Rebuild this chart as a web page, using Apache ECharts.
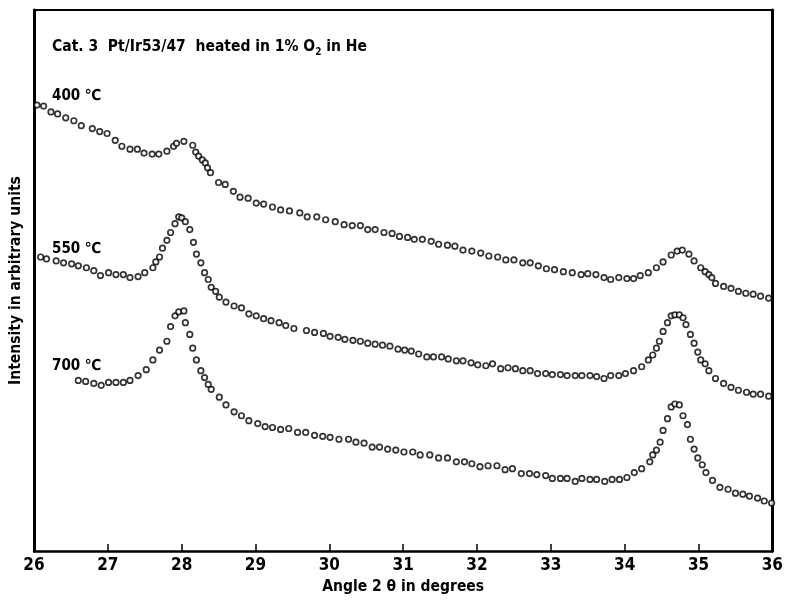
<!DOCTYPE html>
<html>
<head>
<meta charset="utf-8">
<script src="https://cdn.jsdelivr.net/npm/echarts@6/dist/echarts.min.js"></script>
<style>
  html, body { margin: 0; padding: 0; background: #fff; overflow: hidden; }
  #chart { width: 786px; height: 600px; }
</style>
</head>
<body>
<div id="chart"></div>
<script>
  /* ---------- 資料：2θ 角度與強度（任意單位） ---------- */
  const angle400 = [26.04, 26.13, 26.23, 26.32, 26.43, 26.54, 26.64, 26.79, 26.89, 26.99,
    27.10, 27.19, 27.30, 27.40, 27.49, 27.60, 27.69, 27.80, 27.89, 27.93,
    28.03, 28.15, 28.19, 28.23, 28.28, 28.32, 28.35, 28.39, 28.50, 28.59,
    28.70, 28.79, 28.90, 29.01, 29.11, 29.23, 29.34, 29.46, 29.60, 29.70,
    29.83, 29.95, 30.08, 30.20, 30.31, 30.42, 30.52, 30.62, 30.74, 30.85,
    30.95, 31.06, 31.15, 31.26, 31.38, 31.48, 31.60, 31.70, 31.81, 31.93,
    32.05, 32.16, 32.28, 32.39, 32.50, 32.62, 32.72, 32.83, 32.94, 33.05,
    33.17, 33.29, 33.41, 33.50, 33.61, 33.72, 33.81, 33.92, 34.03, 34.12,
    34.21, 34.32, 34.43, 34.52, 34.63, 34.71, 34.78, 34.87, 34.94, 35.03,
    35.09, 35.14, 35.18, 35.23, 35.34, 35.44, 35.54, 35.64, 35.74, 35.84, 35.95];
  const int400 = [455, 454, 448, 446, 442, 439, 434, 431, 428, 426,
    419, 413, 410, 410, 406, 405, 405, 408, 413, 416,
    418, 414, 407, 403, 399, 396, 391, 386, 376, 374,
    367, 361, 360, 355, 354, 351, 348, 347, 345, 341,
    341, 338, 336, 333, 332, 332, 328, 328, 325, 324,
    321, 320, 318, 318, 316, 313, 312, 311, 307, 306,
    304, 301, 300, 297, 297, 294, 294, 291, 288, 287,
    285, 284, 282, 283, 282, 279, 277, 279, 278, 278,
    281, 284, 289, 295, 302, 306, 307, 303, 296, 289,
    285, 282, 279, 273, 270, 268, 265, 263, 262, 260, 258];

  const angle550 = [26.09, 26.17, 26.30, 26.40, 26.51, 26.60, 26.71, 26.81, 26.90, 27.01,
    27.11, 27.21, 27.30, 27.41, 27.50, 27.61, 27.65, 27.70, 27.74, 27.80,
    27.85, 27.91, 27.96, 28.00, 28.05, 28.11, 28.16, 28.20, 28.26, 28.31,
    28.36, 28.40, 28.46, 28.51, 28.60, 28.71, 28.81, 28.91, 29.01, 29.11,
    29.21, 29.32, 29.41, 29.52, 29.69, 29.80, 29.92, 30.01, 30.12, 30.21,
    30.32, 30.42, 30.52, 30.62, 30.72, 30.82, 30.93, 31.02, 31.11, 31.21,
    31.32, 31.41, 31.52, 31.61, 31.72, 31.81, 31.92, 32.01, 32.12, 32.21,
    32.32, 32.42, 32.52, 32.62, 32.72, 32.82, 32.93, 33.02, 33.13, 33.22,
    33.33, 33.42, 33.53, 33.62, 33.72, 33.81, 33.92, 34.01, 34.12, 34.23,
    34.32, 34.38, 34.43, 34.47, 34.52, 34.58, 34.63, 34.68, 34.74, 34.79,
    34.83, 34.89, 34.94, 34.99, 35.03, 35.09, 35.14, 35.23, 35.34, 35.44,
    35.54, 35.65, 35.74, 35.84, 35.95];
  const int550 = [300, 298, 296, 294, 293, 291, 289, 286, 281, 284,
    282, 282, 279, 280, 284, 289, 295, 300, 309, 317,
    325, 334, 341, 340, 336, 328, 315, 303, 294, 284,
    277, 269, 265, 259, 254, 250, 248, 242, 240, 237,
    235, 233, 230, 227, 225, 223, 222, 219, 218, 216,
    215, 214, 212, 211, 210, 209, 206, 205, 204, 201,
    198, 198, 198, 196, 194, 194, 192, 190, 189, 191,
    186, 187, 186, 184, 184, 181, 181, 180, 180, 179,
    179, 179, 179, 178, 176, 179, 179, 181, 184, 188,
    195, 200, 207, 214, 224, 233, 240, 241, 241, 238,
    231, 221, 212, 203, 195, 191, 184, 176, 171, 167,
    164, 162, 160, 160, 158];

  const angle700 = [26.60, 26.70, 26.81, 26.91, 27.01, 27.11, 27.21, 27.30, 27.41, 27.52,
    27.61, 27.70, 27.80, 27.85, 27.91, 27.96, 28.03, 28.05, 28.11, 28.15,
    28.20, 28.26, 28.31, 28.36, 28.40, 28.51, 28.60, 28.71, 28.81, 28.91,
    29.03, 29.13, 29.23, 29.34, 29.45, 29.57, 29.68, 29.80, 29.91, 30.01,
    30.13, 30.26, 30.36, 30.47, 30.58, 30.68, 30.79, 30.90, 31.01, 31.13,
    31.23, 31.36, 31.48, 31.60, 31.72, 31.83, 31.93, 32.04, 32.15, 32.27,
    32.38, 32.48, 32.60, 32.71, 32.81, 32.93, 33.02, 33.13, 33.22, 33.33,
    33.42, 33.53, 33.62, 33.73, 33.83, 33.93, 34.03, 34.13, 34.23, 34.34,
    34.38, 34.43, 34.48, 34.52, 34.58, 34.63, 34.68, 34.74, 34.79, 34.85,
    34.89, 34.94, 34.99, 35.05, 35.10, 35.19, 35.29, 35.40, 35.50, 35.60,
    35.69, 35.80, 35.89, 35.99];
  const int700 = [174, 173, 171, 169, 172, 172, 172, 174, 179, 185,
    195, 205, 214, 229, 240, 244, 245, 233, 221, 207,
    195, 184, 177, 170, 165, 157, 149, 142, 138, 133,
    130, 127, 126, 124, 125, 121, 121, 118, 117, 116,
    114, 114, 111, 110, 106, 106, 104, 103, 101, 101,
    98, 98, 95, 95, 91, 91, 89, 86, 87, 87,
    83, 84, 79, 79, 78, 77, 74, 74, 74, 71,
    74, 73, 73, 71, 73, 73, 75, 80, 84, 91,
    98, 103, 111, 123, 135, 147, 150, 149, 138, 129,
    114, 104, 95, 88, 80, 72, 65, 63, 59, 58,
    56, 54, 51, 49];

  const xTicks = [26, 27, 28, 29, 30, 31, 32, 33, 34, 35, 36];
  const curveLabels = ['400 ℃', '550 ℃', '700 ℃'];

  /* ---------- 樣式 ---------- */
  const FONT = '"DejaVu Sans Condensed", "DejaVu Sans", sans-serif';
  const NARROW = '"Liberation Sans Narrow", "DejaVu Sans Condensed", sans-serif';
  const INK = '#000';

  function pairs(xs, ys) {
    return xs.map(function (x, i) { return [x, ys[i]]; });
  }

  function dotSeries(name, data) {
    return {
      name: name,
      type: 'scatter',
      data: data,
      symbol: 'circle',
      symbolSize: 5.5,
      itemStyle: { color: '#fff', borderColor: INK, borderWidth: 1.7 },
      silent: true,
      animation: false
    };
  }

  function frameAxis(extra) {
    return Object.assign({
      type: 'value',
      axisLine: { show: true, onZero: false, lineStyle: { color: INK, width: 3 } },
      axisTick: { show: false },
      axisLabel: { show: false },
      splitLine: { show: false }
    }, extra);
  }

  const chart = echarts.init(document.getElementById('chart'), null, { renderer: 'canvas' });

  chart.setOption({
    backgroundColor: '#fff',
    animation: false,
    grid: { left: 30, right: 11, top: 10, bottom: 38 },
    title: {
      left: 52, top: 37, padding: 0,
      text: 'Cat. 3  Pt/Ir53/47  heated in 1% O{sub|2} in He',
      textStyle: {
        fontFamily: FONT, fontWeight: 'bold', fontSize: 15.5, color: INK,
        rich: { sub: { fontFamily: FONT, fontWeight: 'bold', fontSize: 10, color: INK, verticalAlign: 'bottom', padding: [10, 0, 0, 0] } }
      }
    },
    xAxis: [{
      type: 'value', min: 26, max: 36, interval: 1,
      name: 'Angle 2 θ in degrees', nameLocation: 'middle', nameGap: 28,
      nameTextStyle: { fontFamily: FONT, fontWeight: 'bold', fontSize: 15.5, color: INK },
      axisLine: { show: true, onZero: false, lineStyle: { color: INK, width: 2.5 } },
      axisTick: { inside: true, length: 7, lineStyle: { color: INK, width: 1.5 } },
      axisLabel: {
        fontFamily: NARROW, fontWeight: 'bold', fontSize: 17, color: INK, margin: 6,
        customValues: xTicks
      },
      splitLine: { show: false }
    }, frameAxis({ min: 26, max: 36, position: 'top', axisLine: { show: true, onZero: false, lineStyle: { color: INK, width: 2 } } })],
    yAxis: [{
      type: 'value', min: 0, max: 552,
      name: 'Intensity in arbitrary units', nameLocation: 'middle', nameGap: 10,
      nameTextStyle: { fontFamily: FONT, fontWeight: 'bold', fontSize: 15.5, color: INK },
      axisLine: { show: true, onZero: false, lineStyle: { color: INK, width: 3 } },
      axisTick: { show: false }, axisLabel: { show: false }, splitLine: { show: false }
    }, frameAxis({ min: 0, max: 552, position: 'right' })],
    graphic: [
      { type: 'text', left: 52, top: 89, style: { text: curveLabels[0], font: 'bold 15px ' + FONT, fill: INK } },
      { type: 'text', left: 52, top: 242, style: { text: curveLabels[1], font: 'bold 15px ' + FONT, fill: INK } },
      { type: 'text', left: 52, top: 359, style: { text: curveLabels[2], font: 'bold 15px ' + FONT, fill: INK } }
    ],
    series: [
      dotSeries(curveLabels[0], pairs(angle400, int400)),
      dotSeries(curveLabels[1], pairs(angle550, int550)),
      dotSeries(curveLabels[2], pairs(angle700, int700))
    ]
  });
</script>
</body>
</html>
